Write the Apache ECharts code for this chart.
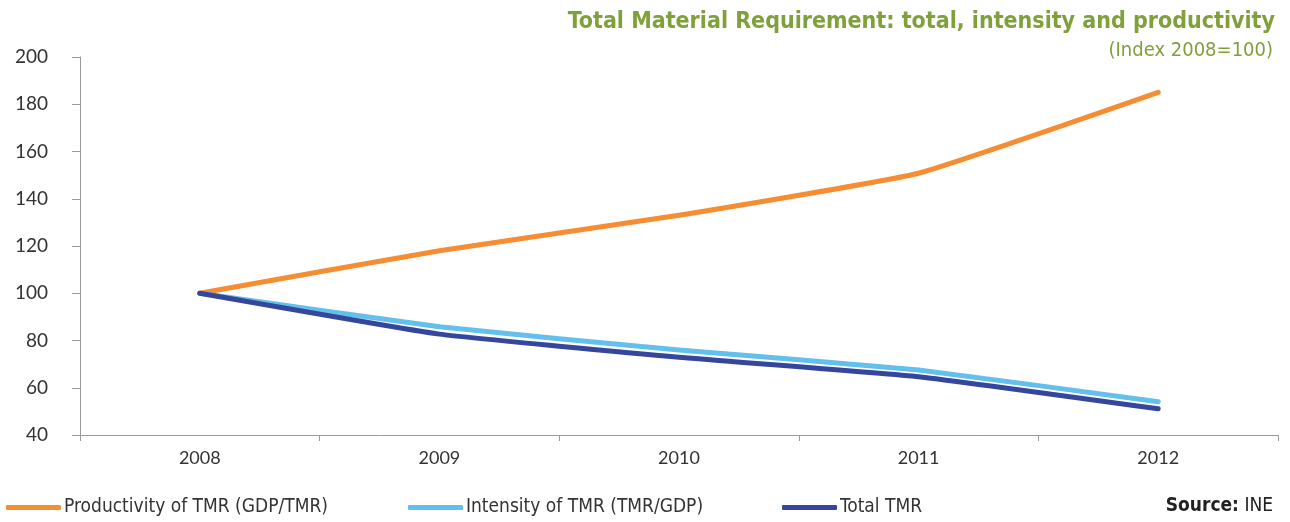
<!DOCTYPE html>
<html>
<head>
<meta charset="utf-8">
<script src="https://cdn.jsdelivr.net/npm/echarts@6/dist/echarts.min.js"></script>
<style>
html,body{margin:0;padding:0;background:#fff;}
#chart{width:1290px;height:522px;}
</style>
</head>
<body>
<div id="chart"></div>
<script>
var years = ['2008', '2009', '2010', '2011', '2012'];
var productivity = [100, 118, 133, 150.8, 185];
var intensity = [100, 85.8, 76, 67.5, 54.1];
var totalTMR = [100, 82.7, 72.9, 64.7, 51.1];
var yTicks = [40, 60, 80, 100, 120, 140, 160, 180, 200];

var names = ['Productivity of TMR (GDP/TMR)', 'Intensity of TMR (TMR/GDP)', 'Total TMR'];
var colors = ['#F68D33', '#63BFEC', '#35479C'];
var green = '#7FA03A';
var labelFont = 'Lato, "Open Sans", sans-serif';
var narrowFont = '"Liberation Sans Narrow", "DejaVu Sans Condensed", sans-serif';

var chart = echarts.init(document.getElementById('chart'), null, {renderer: 'canvas'});

function mkLegend(i, left) {
  return {
    data: [names[i]],
    left: left,
    top: 498,
    icon: 'roundRect',
    itemWidth: 55,
    itemHeight: 5,
    itemGap: 0,
    padding: 0,
    textStyle: {color: '#333', fontSize: 19, fontFamily: narrowFont, padding: [0, 0, 0, -2]}
  };
}

chart.setOption({
  animation: false,
  title: [
    {
      text: 'Total Material Requirement: total, intensity and productivity',
      right: 10, top: 6,
      textStyle: {color: green, fontSize: 23, fontWeight: 'bold', fontFamily: narrowFont}
    },
    {
      text: '(Index 2008=100)',
      right: 12, top: 36,
      textStyle: {color: green, fontSize: 20, fontWeight: 'normal', fontFamily: narrowFont}
    },
    {
      text: '{b|Source:}{n| INE}',
      right: 12, top: 492,
      textStyle: {
        color: '#222', fontSize: 19, fontWeight: 'normal', fontFamily: narrowFont,
        rich: {
          b: {fontWeight: 'bold', fontSize: 19, fontFamily: narrowFont, color: '#222'},
          n: {fontWeight: 'normal', fontSize: 19, fontFamily: narrowFont, color: '#222'}
        }
      }
    }
  ],
  legend: [mkLegend(0, 6), mkLegend(1, 408), mkLegend(2, 782)],
  grid: {left: 80, right: 12, top: 57, bottom: 87, containLabel: false},
  xAxis: {
    type: 'category',
    data: years,
    boundaryGap: true,
    axisLine: {lineStyle: {color: '#9a9a9a', width: 1}},
    axisTick: {show: true, length: 6, lineStyle: {color: '#9a9a9a'}},
    axisLabel: {color: '#333', fontSize: 18, fontFamily: labelFont, margin: 14}
  },
  yAxis: {
    type: 'value',
    min: yTicks[0],
    max: yTicks[yTicks.length - 1],
    interval: 20,
    axisLine: {show: true, lineStyle: {color: '#9a9a9a', width: 1}},
    axisTick: {show: true, length: 8, lineStyle: {color: '#9a9a9a'}},
    splitLine: {show: false},
    axisLabel: {color: '#333', fontSize: 19, fontFamily: labelFont, margin: 32}
  },
  series: [
    {name: names[0], data: productivity},
    {name: names[1], data: intensity},
    {name: names[2], data: totalTMR}
  ].map(function (s, i) {
    return {
      name: s.name,
      type: 'line',
      data: s.data,
      smooth: 0.12,
      symbol: 'none',
      color: colors[i],
      lineStyle: {width: 5, color: colors[i], cap: 'round', join: 'round'}
    };
  })
});
</script>
</body>
</html>
